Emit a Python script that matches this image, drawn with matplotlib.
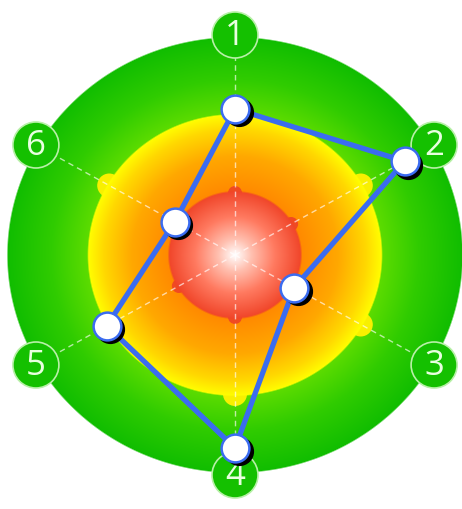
import numpy as np
import matplotlib
matplotlib.use('Agg')
import matplotlib.pyplot as plt
import matplotlib.transforms as mtransforms
from matplotlib.patches import Circle

# six axes, clockwise from the top, scores out of 10
axis_labels = ['1', '2', '3', '4', '5', '6']
values = [6.7, 8.6, 3.0, 8.85, 6.5, 3.05]
scale_max = 10

W, H = 462, 509
cx, cy = 235, 255      # centre of the target, in pixels
sx = 1.045             # the picture is a bit wider than tall
R_green, R_yellow, R_red = 218, 141, 64
R_label = 220


def hex_rgb(h):
    h = h.lstrip('#')
    return np.array([int(h[i:i + 2], 16) / 255 for i in (0, 2, 4)])


def ramp(t, stops):
    # stops: list of (pos, hex colour)
    t = np.clip(t, 0, 1)
    pos = [s[0] for s in stops]
    cols = np.array([hex_rgb(s[1]) for s in stops])
    return np.stack([np.interp(t, pos, cols[:, k]) for k in range(3)], axis=-1)


def polar_xy(r, ang):
    return cx + sx * r * np.sin(ang), cy - r * np.cos(ang)


X, Y = np.meshgrid(np.arange(W) + 0.5, np.arange(H) + 0.5)
rr = np.sqrt(((X - cx) / sx) ** 2 + (Y - cy) ** 2)

fig = plt.figure(figsize=(W / 100, H / 100), dpi=100)
ax = fig.add_axes([0, 0, 1, 1])
ax.set_xlim(0, W)
ax.set_ylim(H, 0)
ax.axis('off')

angles = np.arange(len(axis_labels)) * np.pi / 3

# green outer disc
img = np.zeros((H, W, 4))
img[..., :3] = ramp((rr - R_yellow) / (R_green - R_yellow),
                    [(0, '#5cdc00'), (0.45, '#30cc00'), (1, '#10bd00')])
img[..., 3] = np.clip((R_green + 0.5 - rr) / 1.5, 0, 1)
ax.imshow(img, extent=(0, W, H, 0), zorder=1, interpolation='bilinear')

# little yellow knobs on the edge of the yellow disc
for a in angles:
    bx, by = polar_xy(R_yellow - 2, a)
    ax.add_patch(Circle((bx, by), 12, color='#f8f000', zorder=2, lw=0))

# yellow/orange disc
img = np.zeros((H, W, 4))
img[..., :3] = ramp((rr - R_red) / (R_yellow - R_red),
                    [(0, '#ff8a00'), (0.45, '#ffa800'), (0.8, '#ffd800'), (1, '#ffff00')])
img[..., 3] = np.clip((R_yellow + 0.5 - rr) / 1.5, 0, 1)
ax.imshow(img, extent=(0, W, H, 0), zorder=3, interpolation='bilinear')

# small knobs on the red sphere
for a in angles:
    bx, by = polar_xy(R_red - 2, a)
    ax.add_patch(Circle((bx, by), 7, color='#f04a22', zorder=4, lw=0))

# red sphere with a white highlight
img = np.zeros((H, W, 4))
img[..., :3] = ramp(rr / R_red,
                    [(0, '#ffffff'), (0.25, '#ffc0b0'), (0.6, '#ff7a60'), (1, '#f04428')])
img[..., 3] = np.clip((R_red + 0.5 - rr) / 2.0, 0, 1)
ax.imshow(img, extent=(0, W, H, 0), zorder=5, interpolation='bilinear')

# dashed spokes
for a in angles:
    x0, y0 = polar_xy(0, a)
    x1, y1 = polar_xy(R_label - 22, a)
    ax.plot([x0, x1], [y0, y1], color='white', alpha=0.65, lw=1.0,
            dashes=(4, 3), zorder=6)

# numbered axis badges
for a, lab in zip(angles, axis_labels):
    bx, by = polar_xy(R_label, a)
    ax.add_patch(Circle((bx, by), 23, facecolor='#14c000', edgecolor='#b8f0a8',
                        lw=1.2, zorder=7))
    ax.text(bx, by + 1, lab, color='#e8ffe0', fontsize=25, family='Open Sans',
            ha='center', va='center', zorder=8)

# data polygon
r_vals = np.array(values) / scale_max * R_green
px, py = polar_xy(r_vals, angles)
px_c = np.append(px, px[0])
py_c = np.append(py, py[0])
ax.plot(px_c, py_c, color='#3b6cf0', lw=3.8, zorder=9, solid_joinstyle='round')

shadow = mtransforms.offset_copy(ax.transData, fig=fig, x=0.035, y=-0.035, units='inches')
ax.plot(px, py, 'o', ms=20, color='black', mec='black', transform=shadow, zorder=10)
ax.plot(px, py, 'o', ms=20, mfc='white', mec='#3b6cf0', mew=1.8, zorder=11)

fig.savefig('out.png', dpi=100, facecolor='white')
